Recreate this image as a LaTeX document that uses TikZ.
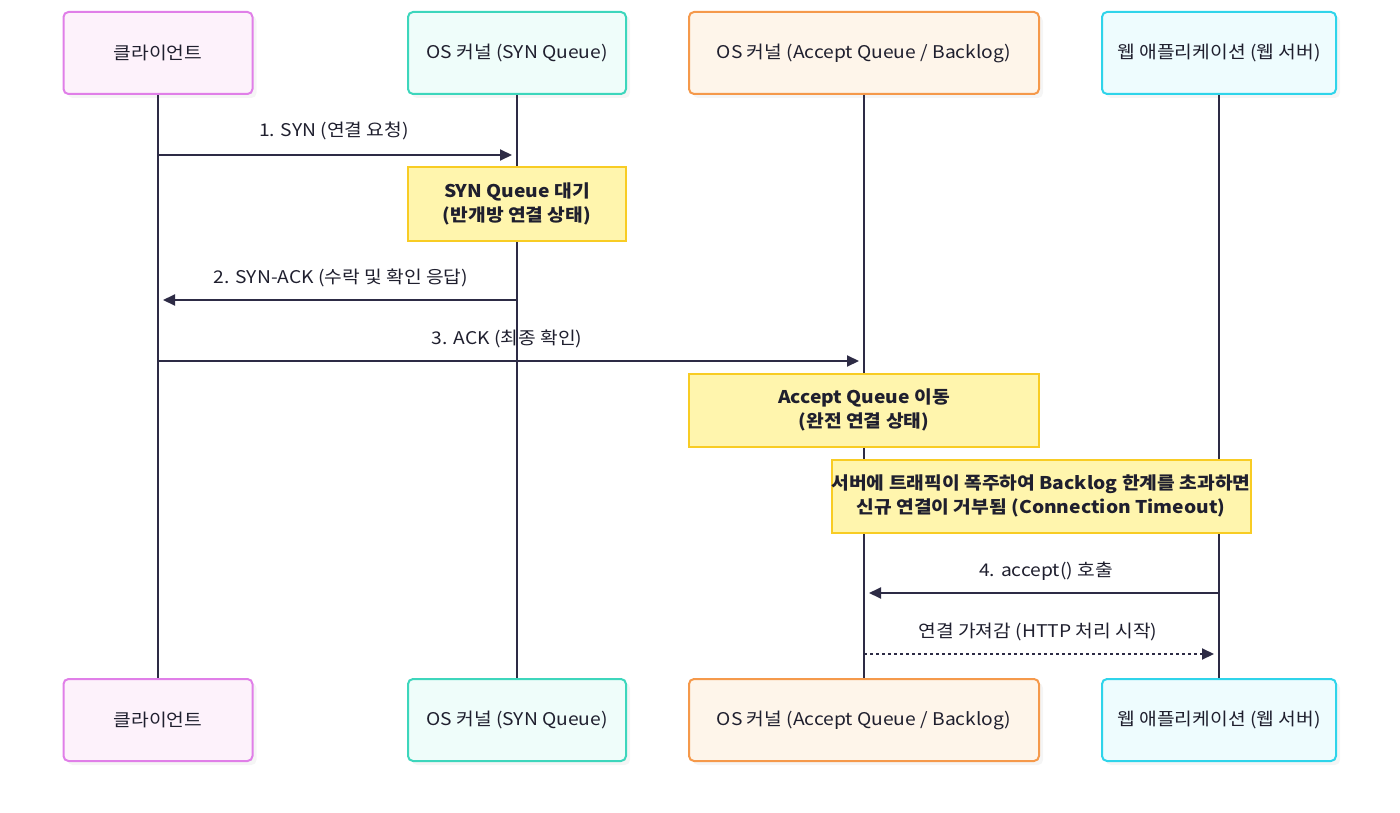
\documentclass[tikz,border=0pt]{standalone}
\usepackage{fontspec}
\setmainfont{Noto Sans CJK KR}[FakeStretch=1.1]
\usetikzlibrary{arrows.meta,shadows}

\definecolor{inkdark}{HTML}{2D2B45}
\definecolor{txtdark}{HTML}{1F1F2E}
\definecolor{cliline}{HTML}{E07FE8}
\definecolor{clifill}{HTML}{FDF2FB}
\definecolor{synline}{HTML}{3DD6BC}
\definecolor{synfill}{HTML}{EFFDFA}
\definecolor{accline}{HTML}{F5994B}
\definecolor{accfill}{HTML}{FEF5EA}
\definecolor{webline}{HTML}{2FD4EA}
\definecolor{webfill}{HTML}{EEFCFE}
\definecolor{noteline}{HTML}{F8CC24}
\definecolor{notefill}{HTML}{FFF5AD}

\begin{document}
\begin{tikzpicture}[x=1pt, y=-1pt,
    actor/.style={draw, line width=2pt, rounded corners=5pt, minimum height=82pt,
        text=txtdark, font=\fontsize{17.5}{20}\selectfont,
        drop shadow={opacity=0.08, shadow xshift=4pt, shadow yshift=-4pt}},
    note/.style={draw=noteline, fill=notefill, line width=2pt, minimum height=73pt,
        text=txtdark, align=center, font=\fontsize{17.5}{24}\selectfont\bfseries},
    lifeline/.style={draw=inkdark, line width=2pt},
    msg/.style={draw=inkdark, line width=2pt, shorten >=5pt,
        -{Triangle[length=12pt,width=11pt]}},
    lbl/.style={text=txtdark, font=\fontsize{17.5}{20}\selectfont}]

    % Canvas
    \useasboundingbox (0,0) rectangle (1400,813);

    % Participants, top row
    \node[actor, draw=cliline, fill=clifill, minimum width=189pt] (cliTop) at (158,53) {클라이언트};
    \node[actor, draw=synline, fill=synfill, minimum width=218pt] (synTop) at (517,53) {OS 커널 (SYN Queue)};
    \node[actor, draw=accline, fill=accfill, minimum width=350pt] (accTop) at (864,53) {OS 커널 (Accept Queue / Backlog)};
    \node[actor, draw=webline, fill=webfill, minimum width=234pt] (webTop) at (1219,53) {웹 애플리케이션 (웹 서버)};

    % Participants, bottom row
    \node[actor, draw=cliline, fill=clifill, minimum width=189pt] (cliBot) at (158,720) {클라이언트};
    \node[actor, draw=synline, fill=synfill, minimum width=218pt] (synBot) at (517,720) {OS 커널 (SYN Queue)};
    \node[actor, draw=accline, fill=accfill, minimum width=350pt] (accBot) at (864,720) {OS 커널 (Accept Queue / Backlog)};
    \node[actor, draw=webline, fill=webfill, minimum width=234pt] (webBot) at (1219,720) {웹 애플리케이션 (웹 서버)};

    % Lifelines
    \draw[lifeline] (cliTop) -- (cliBot);
    \draw[lifeline] (synTop) -- (synBot);
    \draw[lifeline] (accTop) -- (accBot);
    \draw[lifeline] (webTop) -- (webBot);

    % Message end points on the lifelines
    \coordinate (cliA) at (158,155);
    \coordinate (synA) at (517,155);
    \coordinate (synB) at (517,300);
    \coordinate (cliB) at (158,300);
    \coordinate (cliC) at (158,361);
    \coordinate (accC) at (864,361);
    \coordinate (webD) at (1219,593);
    \coordinate (accD) at (864,593);
    \coordinate (accE) at (864,654);
    \coordinate (webE) at (1219,654);

    % 1. SYN
    \draw[msg] (cliA) -- (synA);
    \node[lbl] (synMsg) at (334,131) {1. SYN (연결 요청)};

    % SYN queue note
    \node[note, minimum width=218pt] (synNote) at (517,204) {SYN Queue 대기\\(반개방 연결 상태)};

    % 2. SYN-ACK
    \draw[msg] (synB) -- (cliB);
    \node[lbl] (synackMsg) at (341,278) {2. SYN-ACK (수락 및 확인 응답)};

    % 3. ACK
    \draw[msg] (cliC) -- (accC);
    \node[lbl] (ackMsg) at (507,339) {3. ACK (최종 확인)};

    % Accept queue note
    \node[note, minimum width=350pt] (accNote) at (864,410) {Accept Queue 이동\\(완전 연결 상태)};

    % Backlog overflow note
    \node[note, minimum width=419pt, inner xsep=0pt] (overNote) at (1041,496) {서버에 트래픽이 폭주하여 Backlog 한계를 초과하면\\신규 연결이 거부됨 (Connection Timeout)};

    % 4. accept()
    \draw[msg] (webD) -- (accD);
    \node[lbl] (acceptMsg) at (1046,571) {4. accept() 호출};

    % Handover to the web server
    \draw[msg, dash pattern=on 3pt off 3pt] (accE) -- (webE);
    \node[lbl] (takeMsg) at (1038,632) {연결 가져감 (HTTP 처리 시작)};
\end{tikzpicture}
\end{document}
